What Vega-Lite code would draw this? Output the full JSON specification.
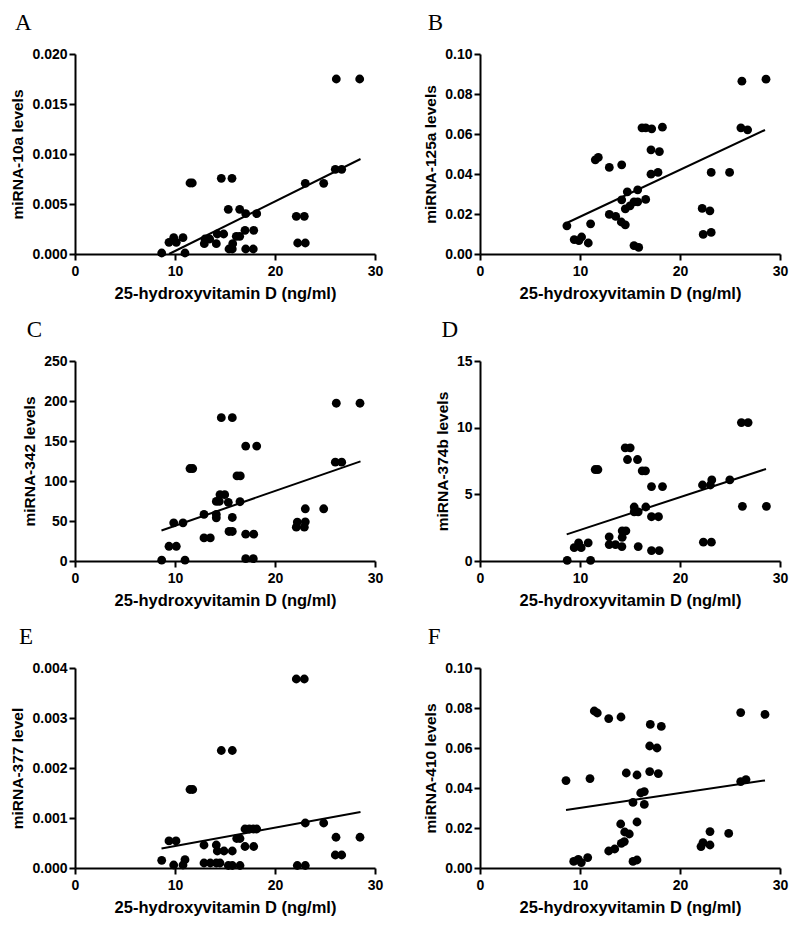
{
  "$schema": "https://vega.github.io/schema/vega-lite/v6.json",
  "padding": {"left": 10, "top": 12, "right": 5, "bottom": 5},
  "background": "white",
  "datasets": {
    "pA": [{"x":8.67,"y":0.0001},{"x":9.4,"y":0.00117},{"x":9.87,"y":0.00163},{"x":10.13,"y":0.00117},{"x":10.8,"y":0.00163},{"x":11.0,"y":0.0001},{"x":11.5,"y":0.0071},{"x":11.73,"y":0.0071},{"x":12.93,"y":0.00103},{"x":13.0,"y":0.0015},{"x":13.47,"y":0.0015},{"x":14.13,"y":0.00103},{"x":14.23,"y":0.002},{"x":14.63,"y":0.00757},{"x":14.87,"y":0.002},{"x":15.33,"y":0.00447},{"x":15.4,"y":0.0005},{"x":15.7,"y":0.00757},{"x":15.73,"y":0.0005},{"x":15.77,"y":0.00103},{"x":16.13,"y":0.00177},{"x":16.47,"y":0.00177},{"x":16.47,"y":0.00447},{"x":17.0,"y":0.00237},{"x":17.07,"y":0.0005},{"x":17.07,"y":0.00403},{"x":17.83,"y":0.0005},{"x":17.87,"y":0.00237},{"x":18.17,"y":0.00403},{"x":22.13,"y":0.00377},{"x":22.27,"y":0.0011},{"x":22.93,"y":0.00377},{"x":23.03,"y":0.0011},{"x":23.03,"y":0.00707},{"x":24.87,"y":0.00707},{"x":26.03,"y":0.00847},{"x":26.13,"y":0.0175},{"x":26.67,"y":0.00847},{"x":28.47,"y":0.0175}],
    "fA": [{"x":9.4,"y":0},{"x":28.55,"y":0.0095}],
    "pB": [{"x":26.19,"y":0.0864},{"x":28.6,"y":0.0874},{"x":26.09,"y":0.0631},{"x":26.76,"y":0.0621},{"x":16.2,"y":0.0631},{"x":16.57,"y":0.0631},{"x":17.17,"y":0.0626},{"x":18.24,"y":0.0634},{"x":17.1,"y":0.0521},{"x":17.94,"y":0.0512},{"x":17.1,"y":0.0399},{"x":17.8,"y":0.0408},{"x":23.12,"y":0.0408},{"x":24.96,"y":0.0408},{"x":22.22,"y":0.0228},{"x":22.99,"y":0.0216},{"x":22.32,"y":0.0098},{"x":23.12,"y":0.0108},{"x":8.69,"y":0.0141},{"x":9.42,"y":0.0072},{"x":9.89,"y":0.0067},{"x":10.16,"y":0.0085},{"x":10.83,"y":0.0055},{"x":11.06,"y":0.0151},{"x":11.53,"y":0.0471},{"x":11.83,"y":0.0483},{"x":12.93,"y":0.0433},{"x":12.93,"y":0.0198},{"x":13.57,"y":0.0188},{"x":14.17,"y":0.0446},{"x":14.17,"y":0.0271},{"x":14.13,"y":0.016},{"x":14.53,"y":0.0146},{"x":14.73,"y":0.0311},{"x":14.53,"y":0.0226},{"x":15.0,"y":0.0241},{"x":15.4,"y":0.0261},{"x":15.4,"y":0.0042},{"x":15.77,"y":0.0321},{"x":15.77,"y":0.0261},{"x":15.87,"y":0.0033},{"x":16.57,"y":0.0273}],
    "fB": [{"x":8.67,"y":0.0155},{"x":28.5,"y":0.062}],
    "pC": [{"x":8.67,"y":1},{"x":9.4,"y":18.4},{"x":9.87,"y":47.7},{"x":10.13,"y":18.4},{"x":10.8,"y":47.7},{"x":11.0,"y":1},{"x":11.5,"y":115.6},{"x":11.77,"y":115.6},{"x":12.9,"y":58.2},{"x":12.9,"y":28.9},{"x":13.53,"y":28.9},{"x":14.13,"y":58.2},{"x":14.13,"y":54},{"x":14.13,"y":74.5},{"x":14.43,"y":74.5},{"x":14.5,"y":82.9},{"x":14.63,"y":179.2},{"x":14.97,"y":82.9},{"x":15.33,"y":73.3},{"x":15.4,"y":36.9},{"x":15.73,"y":36.9},{"x":15.73,"y":54.4},{"x":15.73,"y":179.2},{"x":16.2,"y":106.4},{"x":16.53,"y":106.4},{"x":16.5,"y":74.1},{"x":17.07,"y":143.6},{"x":17.07,"y":33.5},{"x":17.07,"y":2.9},{"x":17.83,"y":2.9},{"x":17.87,"y":33.5},{"x":18.17,"y":143.6},{"x":22.13,"y":42.3},{"x":22.23,"y":48.6},{"x":22.93,"y":42.3},{"x":23.03,"y":49},{"x":23.03,"y":65.3},{"x":24.87,"y":65.3},{"x":26.03,"y":123.5},{"x":26.67,"y":123.5},{"x":26.13,"y":197.2},{"x":28.5,"y":197.2}],
    "fC": [{"x":8.65,"y":38.2},{"x":28.55,"y":124.6}],
    "pD": [{"x":8.72,"y":0.05},{"x":9.42,"y":1.0},{"x":9.86,"y":1.36},{"x":10.12,"y":1.0},{"x":10.82,"y":1.36},{"x":11.06,"y":0.05},{"x":11.52,"y":6.86},{"x":11.79,"y":6.86},{"x":12.92,"y":1.81},{"x":12.92,"y":1.23},{"x":13.55,"y":1.23},{"x":14.19,"y":1.08},{"x":14.22,"y":1.78},{"x":14.22,"y":2.26},{"x":14.59,"y":2.26},{"x":14.52,"y":8.49},{"x":15.02,"y":8.49},{"x":14.75,"y":7.61},{"x":15.75,"y":7.61},{"x":15.42,"y":4.05},{"x":15.42,"y":3.69},{"x":15.82,"y":3.69},{"x":15.82,"y":1.08},{"x":16.22,"y":6.76},{"x":16.55,"y":6.76},{"x":16.58,"y":4.05},{"x":17.15,"y":5.58},{"x":18.25,"y":5.58},{"x":17.15,"y":3.32},{"x":17.85,"y":3.32},{"x":17.15,"y":0.78},{"x":17.92,"y":0.78},{"x":22.25,"y":5.7},{"x":23.04,"y":5.7},{"x":23.18,"y":6.08},{"x":24.98,"y":6.08},{"x":22.34,"y":1.41},{"x":23.14,"y":1.41},{"x":26.14,"y":10.38},{"x":26.81,"y":10.38},{"x":26.24,"y":4.1},{"x":28.64,"y":4.1}],
    "fD": [{"x":8.67,"y":2.0},{"x":28.6,"y":6.9}],
    "pE": [{"x":8.67,"y":0.000154},{"x":9.4,"y":0.000542},{"x":10.1,"y":0.000542},{"x":9.87,"y":0.00006},{"x":10.8,"y":0.00006},{"x":11.0,"y":0.000167},{"x":11.5,"y":0.00157},{"x":11.77,"y":0.00157},{"x":12.9,"y":0.00046},{"x":12.9,"y":0.0001},{"x":13.53,"y":0.0001},{"x":14.13,"y":0.0001},{"x":14.5,"y":0.0001},{"x":14.13,"y":0.00046},{"x":14.23,"y":0.00034},{"x":14.9,"y":0.00034},{"x":14.63,"y":0.00235},{"x":15.73,"y":0.00235},{"x":15.33,"y":0.00005},{"x":15.73,"y":0.00005},{"x":15.73,"y":0.00034},{"x":16.17,"y":0.00059},{"x":16.5,"y":0.00059},{"x":16.5,"y":0.00005},{"x":17.0,"y":0.00043},{"x":17.0,"y":0.00078},{"x":17.43,"y":0.00078},{"x":17.83,"y":0.00078},{"x":18.17,"y":0.00078},{"x":17.87,"y":0.00043},{"x":22.13,"y":0.00378},{"x":22.93,"y":0.00378},{"x":22.23,"y":0.00005},{"x":23.03,"y":0.00005},{"x":23.03,"y":0.0009},{"x":24.87,"y":0.0009},{"x":26.1,"y":0.000615},{"x":28.5,"y":0.000615},{"x":26.03,"y":0.00026},{"x":26.67,"y":0.00026}],
    "fE": [{"x":8.65,"y":0.00039},{"x":28.55,"y":0.00112}],
    "pF": [{"x":8.6,"y":0.0437},{"x":9.37,"y":0.0033},{"x":9.83,"y":0.0043},{"x":10.13,"y":0.0027},{"x":10.77,"y":0.0052},{"x":11.0,"y":0.0447},{"x":11.43,"y":0.0785},{"x":11.73,"y":0.0775},{"x":12.87,"y":0.0747},{"x":14.1,"y":0.0755},{"x":17.03,"y":0.0718},{"x":18.13,"y":0.0708},{"x":16.97,"y":0.061},{"x":17.7,"y":0.06},{"x":26.07,"y":0.0777},{"x":28.5,"y":0.0768},{"x":14.63,"y":0.0475},{"x":15.7,"y":0.0465},{"x":16.97,"y":0.0482},{"x":17.83,"y":0.0472},{"x":16.07,"y":0.0375},{"x":16.43,"y":0.0382},{"x":15.3,"y":0.0328},{"x":16.43,"y":0.0318},{"x":14.07,"y":0.022},{"x":15.7,"y":0.023},{"x":14.47,"y":0.018},{"x":14.93,"y":0.017},{"x":14.13,"y":0.0123},{"x":14.43,"y":0.0132},{"x":12.87,"y":0.0085},{"x":13.47,"y":0.0095},{"x":15.3,"y":0.0033},{"x":15.7,"y":0.004},{"x":22.1,"y":0.0107},{"x":22.3,"y":0.0127},{"x":23.0,"y":0.0115},{"x":23.0,"y":0.0182},{"x":24.87,"y":0.0173},{"x":26.07,"y":0.0432},{"x":26.6,"y":0.0442}],
    "fF": [{"x":8.6,"y":0.029},{"x":28.5,"y":0.0438}]
  },
  "concat": [
    {
      "title": {"text": "A", "dx": 4},
      "width": 300, "height": 200,
      "encoding": {
        "x": {"field": "x", "type": "quantitative", "scale": {"domain": [0, 30], "nice": false}, "axis": {"values": [0, 10, 20, 30], "title": "25-hydroxyvitamin D (ng/ml)"}},
        "y": {"field": "y", "type": "quantitative", "scale": {"domain": [0, 0.02], "nice": false}, "axis": {"values": [0, 0.005, 0.01, 0.015, 0.02], "format": ".3f", "labelOverlap": false, "title": "miRNA-10a levels"}}
      },
      "layer": [
        {"data": {"name": "pA"}, "mark": {"type": "circle", "size": 78, "opacity": 1, "color": "black"}},
        {"data": {"name": "fA"}, "mark": {"type": "line", "color": "black", "strokeWidth": 2}}
      ]
    },
    {
      "title": {"text": "B", "dx": 4},
      "width": 300, "height": 200,
      "encoding": {
        "x": {"field": "x", "type": "quantitative", "scale": {"domain": [0, 30], "nice": false}, "axis": {"values": [0, 10, 20, 30], "title": "25-hydroxyvitamin D (ng/ml)"}},
        "y": {"field": "y", "type": "quantitative", "scale": {"domain": [0, 0.1], "nice": false}, "axis": {"values": [0, 0.02, 0.04, 0.06, 0.08, 0.1], "format": ".2f", "labelOverlap": false, "title": "miRNA-125a levels"}}
      },
      "layer": [
        {"data": {"name": "pB"}, "mark": {"type": "circle", "size": 78, "opacity": 1, "color": "black"}},
        {"data": {"name": "fB"}, "mark": {"type": "line", "color": "black", "strokeWidth": 2}}
      ]
    },
    {
      "title": {"text": "C", "dx": 4},
      "width": 300, "height": 200,
      "encoding": {
        "x": {"field": "x", "type": "quantitative", "scale": {"domain": [0, 30], "nice": false}, "axis": {"values": [0, 10, 20, 30], "title": "25-hydroxyvitamin D (ng/ml)"}},
        "y": {"field": "y", "type": "quantitative", "scale": {"domain": [0, 250], "nice": false}, "axis": {"values": [0, 50, 100, 150, 200, 250], "format": "d", "labelOverlap": false, "title": "miRNA-342 levels"}}
      },
      "layer": [
        {"data": {"name": "pC"}, "mark": {"type": "circle", "size": 78, "opacity": 1, "color": "black"}},
        {"data": {"name": "fC"}, "mark": {"type": "line", "color": "black", "strokeWidth": 2}}
      ]
    },
    {
      "title": {"text": "D", "dx": 6},
      "width": 300, "height": 200,
      "encoding": {
        "x": {"field": "x", "type": "quantitative", "scale": {"domain": [0, 30], "nice": false}, "axis": {"values": [0, 10, 20, 30], "title": "25-hydroxyvitamin D (ng/ml)"}},
        "y": {"field": "y", "type": "quantitative", "scale": {"domain": [0, 15], "nice": false}, "axis": {"values": [0, 5, 10, 15], "format": "d", "labelOverlap": false, "title": "miRNA-374b levels"}}
      },
      "layer": [
        {"data": {"name": "pD"}, "mark": {"type": "circle", "size": 78, "opacity": 1, "color": "black"}},
        {"data": {"name": "fD"}, "mark": {"type": "line", "color": "black", "strokeWidth": 2}}
      ]
    },
    {
      "title": {"text": "E", "dx": 8},
      "width": 300, "height": 200,
      "encoding": {
        "x": {"field": "x", "type": "quantitative", "scale": {"domain": [0, 30], "nice": false}, "axis": {"values": [0, 10, 20, 30], "title": "25-hydroxyvitamin D (ng/ml)"}},
        "y": {"field": "y", "type": "quantitative", "scale": {"domain": [0, 0.004], "nice": false}, "axis": {"values": [0, 0.001, 0.002, 0.003, 0.004], "format": ".3f", "labelOverlap": false, "title": "miRNA-377 level"}}
      },
      "layer": [
        {"data": {"name": "pE"}, "mark": {"type": "circle", "size": 78, "opacity": 1, "color": "black"}},
        {"data": {"name": "fE"}, "mark": {"type": "line", "color": "black", "strokeWidth": 2}}
      ]
    },
    {
      "title": {"text": "F", "dx": 4},
      "width": 300, "height": 200,
      "encoding": {
        "x": {"field": "x", "type": "quantitative", "scale": {"domain": [0, 30], "nice": false}, "axis": {"values": [0, 10, 20, 30], "title": "25-hydroxyvitamin D (ng/ml)"}},
        "y": {"field": "y", "type": "quantitative", "scale": {"domain": [0, 0.1], "nice": false}, "axis": {"values": [0, 0.02, 0.04, 0.06, 0.08, 0.1], "format": ".2f", "labelOverlap": false, "title": "miRNA-410 levels"}}
      },
      "layer": [
        {"data": {"name": "pF"}, "mark": {"type": "circle", "size": 78, "opacity": 1, "color": "black"}},
        {"data": {"name": "fF"}, "mark": {"type": "line", "color": "black", "strokeWidth": 2}}
      ]
    }
  ],
  "columns": 2,
  "spacing": {"row": 17, "column": 40},
  "config": {
    "view": {"stroke": null},
    "title": {"anchor": "start", "frame": "bounds", "font": "Liberation Serif", "fontSize": 23, "fontWeight": "normal", "color": "black", "offset": 12},
    "axis": {"grid": false, "domainColor": "black", "domainWidth": 2, "tickColor": "black", "tickWidth": 2, "tickSize": 6,
      "labelFont": "Liberation Sans", "labelFontWeight": "bold", "labelFontSize": 14, "labelColor": "black", "labelPadding": 2,
      "titleFont": "Liberation Sans", "titleFontSize": 15.5, "titleFontWeight": "bold", "titleColor": "black", "titlePadding": 6},
    "axisX": {"labelPadding": 4, "titlePadding": 7, "titleFontSize": 16.5, "labelFlush": false, "labelOverlap": false},
    "axisY": {"labelOverlap": false}
  }
}
